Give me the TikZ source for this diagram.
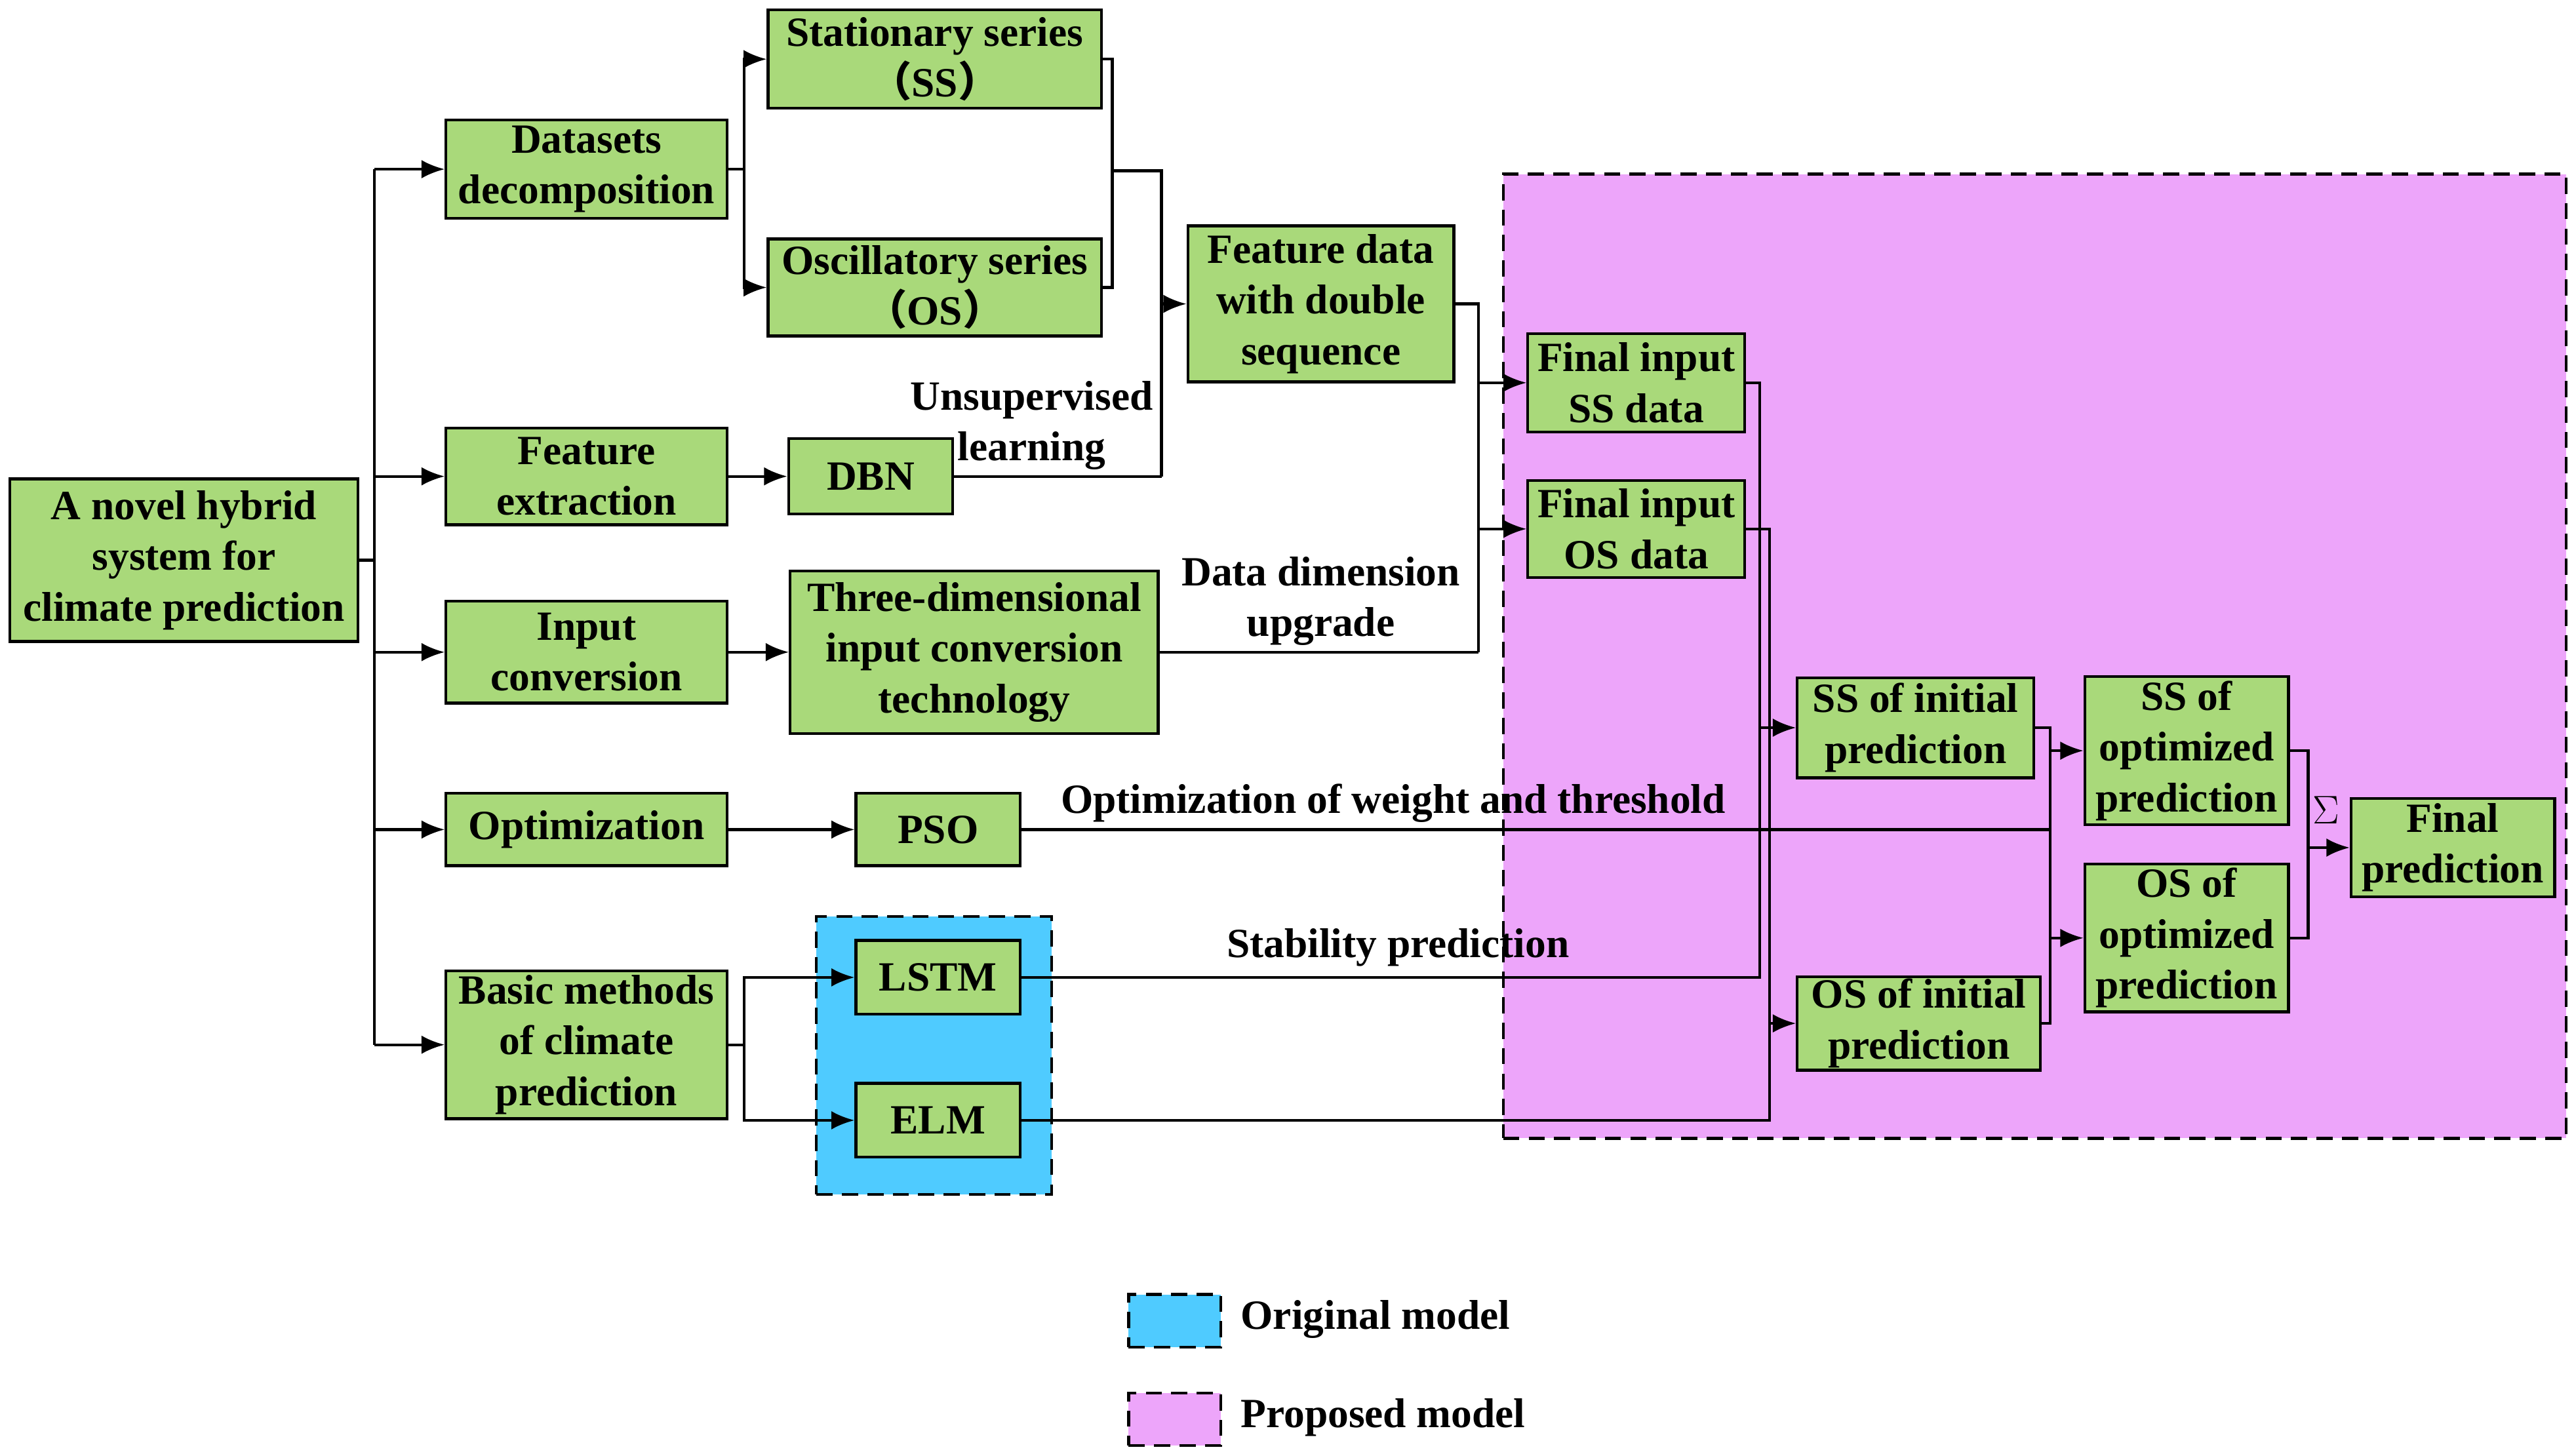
\documentclass[tikz,border=0pt]{standalone}
\usepackage{fontspec}
\setmainfont{Liberation Serif}
\newfontfamily\cjk{Noto Sans CJK SC}
\usetikzlibrary{arrows.meta}
\definecolor{boxgreen}{HTML}{A9D97A}
\definecolor{pinkbg}{HTML}{EDA5FA}
\definecolor{bluebg}{HTML}{4FCBFF}
\def\un{0.025cm}
\begin{document}
\begin{tikzpicture}[x=0.025cm,y=-0.025cm,
  box/.style={draw, line width=1.2pt, fill=boxgreen, inner sep=0pt, align=center,
    font=\fontsize{18}{22}\selectfont\bfseries},
  b/.style 2 args={minimum width=#1*\un, minimum height=#2*\un},
  ln/.style={line width=1.2pt},
  arr/.style={line width=1.2pt, -{Latex[length=10pt,width=8pt]}},
  lab/.style={align=center, font=\fontsize{18}{22}\selectfont\bfseries, inner sep=0pt},
  region/.style={draw, line width=1.2pt, dashed, dash pattern=on 7pt off 4pt}]
\useasboundingbox (0,0) rectangle (1568,886);
% regions
\node[region, fill=pinkbg, b={647}{587}] (prop) at (1238.5,399.5) {};
\node[region, fill=bluebg, b={143}{169}] (orig) at (568.5,642.5) {};
% nodes
\node[box, b={212}{99}] (main) at (112,341) {A novel hybrid\\system for\\climate prediction};
\node[box, b={171}{60}] (dd) at (357,103) {Datasets\\decomposition};
\node[box, b={171}{59}] (fe) at (357,290) {Feature\\extraction};
\node[box, b={171}{62}] (ic) at (357,397) {Input\\conversion};
\node[box, b={171}{44}] (opt) at (357,505) {Optimization};
\node[box, b={171}{90}] (bm) at (357,636) {Basic methods\\of climate\\prediction};
\node[box, b={203}{60}] (ss) at (569,36) {Stationary series\\{\cjk（}SS{\cjk）}};
\node[box, b={203}{59}] (os) at (569,175) {Oscillatory series\\{\cjk（}OS{\cjk）}};
\node[box, b={100}{46}] (dbn) at (530,290) {DBN};
\node[box, b={224}{99}] (td) at (593,397) {Three-dimensional\\input conversion\\technology};
\node[box, b={100}{44}] (pso) at (571,505) {PSO};
\node[box, b={100}{45}] (lstm) at (571,595) {LSTM};
\node[box, b={100}{45}] (elm) at (571,682) {ELM};
\node[box, b={162}{95}] (fd) at (804,185) {Feature data\\with double\\sequence};
\node[box, b={132}{60}] (fss) at (996,233) {Final input\\SS data};
\node[box, b={132}{59}] (fos) at (996,322) {Final input\\OS data};
\node[box, b={144}{61}] (ssi) at (1166,443) {SS of initial\\prediction};
\node[box, b={148}{57}] (osi) at (1168,623) {OS of initial\\prediction};
\node[box, b={124}{90}] (sso) at (1331,457) {SS of\\optimized\\prediction};
\node[box, b={124}{90}] (oso) at (1331,571) {OS of\\optimized\\prediction};
\node[box, b={124}{60}] (fin) at (1493,516) {Final\\prediction};
% labels
\node[lab] (l1) at (628,259) {Unsupervised\\learning};
\node[lab] (l2) at (804,366) {Data dimension\\upgrade};
\node[lab] (l3) at (848,489) {Optimization of weight and threshold};
\node[lab] (l4) at (851,577) {Stability prediction};
\node[inner sep=0pt, font=\fontsize{18}{20}\selectfont] (sig) at (1416,493) {$\Sigma$};
% connectors from main
\draw[ln] (main.east) -- (228,341);
\draw[ln] (228,103) -- (228,636);
\draw[arr] (228,103) -- (dd.west);
\draw[arr] (228,290) -- (fe.west);
\draw[arr] (228,397) -- (ic.west);
\draw[arr] (228,505) -- (opt.west);
\draw[arr] (228,636) -- (bm.west);
% decomposition
\draw[ln] (dd.east) -- (453,103);
\draw[arr] (453,103) |- (ss.west);
\draw[arr] (453,103) |- (os.west);
\draw[ln] (ss.east) -- (677,36) |- (os.east);
\draw[ln] (677,104) -- (707,104) -- (707,290);
\draw[ln] (dbn.east) -- (707,290);
\draw[arr] (707,185) -- (fd.west);
\draw[arr] (fe.east) -- (dbn.west);
\draw[arr] (ic.east) -- (td.west);
\draw[arr] (opt.east) -- (pso.west);
% feature data to final inputs
\draw[ln] (fd.east) -- (900,185) -- (900,397);
\draw[ln] (td.east) -- (900,397);
\draw[arr] (900,233) -- (fss.west);
\draw[arr] (900,322) -- (fos.west);
% basic methods
\draw[ln] (bm.east) -- (453,636);
\draw[arr] (453,636) |- (lstm.west);
\draw[arr] (453,636) |- (elm.west);
% to initial predictions
\draw[ln] (lstm.east) -- (1071,595) |- (fss.east);
\draw[arr] (1071,443) -- (ssi.west);
\draw[ln] (elm.east) -- (1077,682) |- (fos.east);
\draw[arr] (1077,623) -- (osi.west);
% optimization
\draw[ln] (pso.east) -- (1248,505);
\draw[ln] (ssi.east) -- (1248,443) |- (osi.east);
\draw[arr] (1248,457) -- (sso.west);
\draw[arr] (1248,571) -- (oso.west);
\draw[ln] (sso.east) -- (1405,457) |- (oso.east);
\draw[arr] (1405,516) -- (fin.west);
% legend
\node[region, fill=bluebg, b={56}{32}] (lg1) at (715,804) {};
\node[lab, anchor=west] (lt1) at (755,803) {Original model};
\node[region, fill=pinkbg, b={56}{32}] (lg2) at (715,864) {};
\node[lab, anchor=west] (lt2) at (755,863) {Proposed model};
\end{tikzpicture}
\end{document}
